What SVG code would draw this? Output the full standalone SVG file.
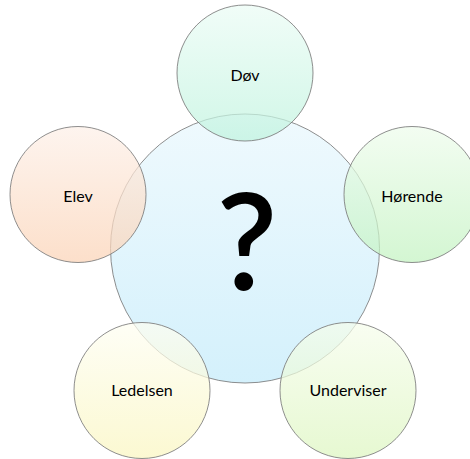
<svg xmlns="http://www.w3.org/2000/svg" width="470" height="459" viewBox="0 0 470 459">
<defs>
<linearGradient id="gC" x1="0" y1="0" x2="0" y2="1"><stop offset="0" stop-color="#ebf8fd"/><stop offset="1" stop-color="#c9edfb"/></linearGradient>
<linearGradient id="gD" x1="0" y1="0" x2="0" y2="1"><stop offset="0" stop-color="#ebfcf5"/><stop offset="1" stop-color="#bff3de"/></linearGradient>
<linearGradient id="gE" x1="0" y1="0" x2="0" y2="1"><stop offset="0" stop-color="#fdf0e8"/><stop offset="1" stop-color="#fbd3b6"/></linearGradient>
<linearGradient id="gH" x1="0" y1="0" x2="0" y2="1"><stop offset="0" stop-color="#eefcec"/><stop offset="1" stop-color="#c3f3c1"/></linearGradient>
<linearGradient id="gL" x1="0" y1="0" x2="0" y2="1"><stop offset="0" stop-color="#fefef2"/><stop offset="1" stop-color="#faf6c0"/></linearGradient>
<linearGradient id="gU" x1="0" y1="0" x2="0" y2="1"><stop offset="0" stop-color="#f6fdec"/><stop offset="1" stop-color="#ddf6c0"/></linearGradient>
</defs>
<style>
circle{stroke:#7a7a7a;stroke-width:1;stroke-opacity:0.85}
.c{fill-opacity:0.8}
.o{fill-opacity:0.72}
text{font-family:Lato,"Open Sans","Liberation Sans",sans-serif;fill:#000;text-anchor:middle}
.l{font-size:16px}
.q{font-size:134px;font-weight:600}
</style>
<g id="center"><circle class="c" cx="245" cy="248.5" r="134.5" fill="url(#gC)"/><text class="q" x="247" y="290">?</text></g>
<g id="dov"><circle class="o" cx="245" cy="73" r="68" fill="url(#gD)"/><text class="l" x="245" y="81">Døv</text></g>
<g id="horende"><circle class="o" cx="412" cy="194.5" r="68" fill="url(#gH)"/><text class="l" x="412" y="202">Hørende</text></g>
<g id="underviser"><circle class="o" cx="348" cy="390.5" r="68" fill="url(#gU)"/><text class="l" x="348" y="396">Underviser</text></g>
<g id="ledelsen"><circle class="o" cx="142" cy="390.5" r="68" fill="url(#gL)"/><text class="l" x="142" y="396">Ledelsen</text></g>
<g id="elev"><circle class="o" cx="78" cy="194.5" r="68" fill="url(#gE)"/><text class="l" x="78" y="202">Elev</text></g>
<g id="connectors"/>
</svg>
